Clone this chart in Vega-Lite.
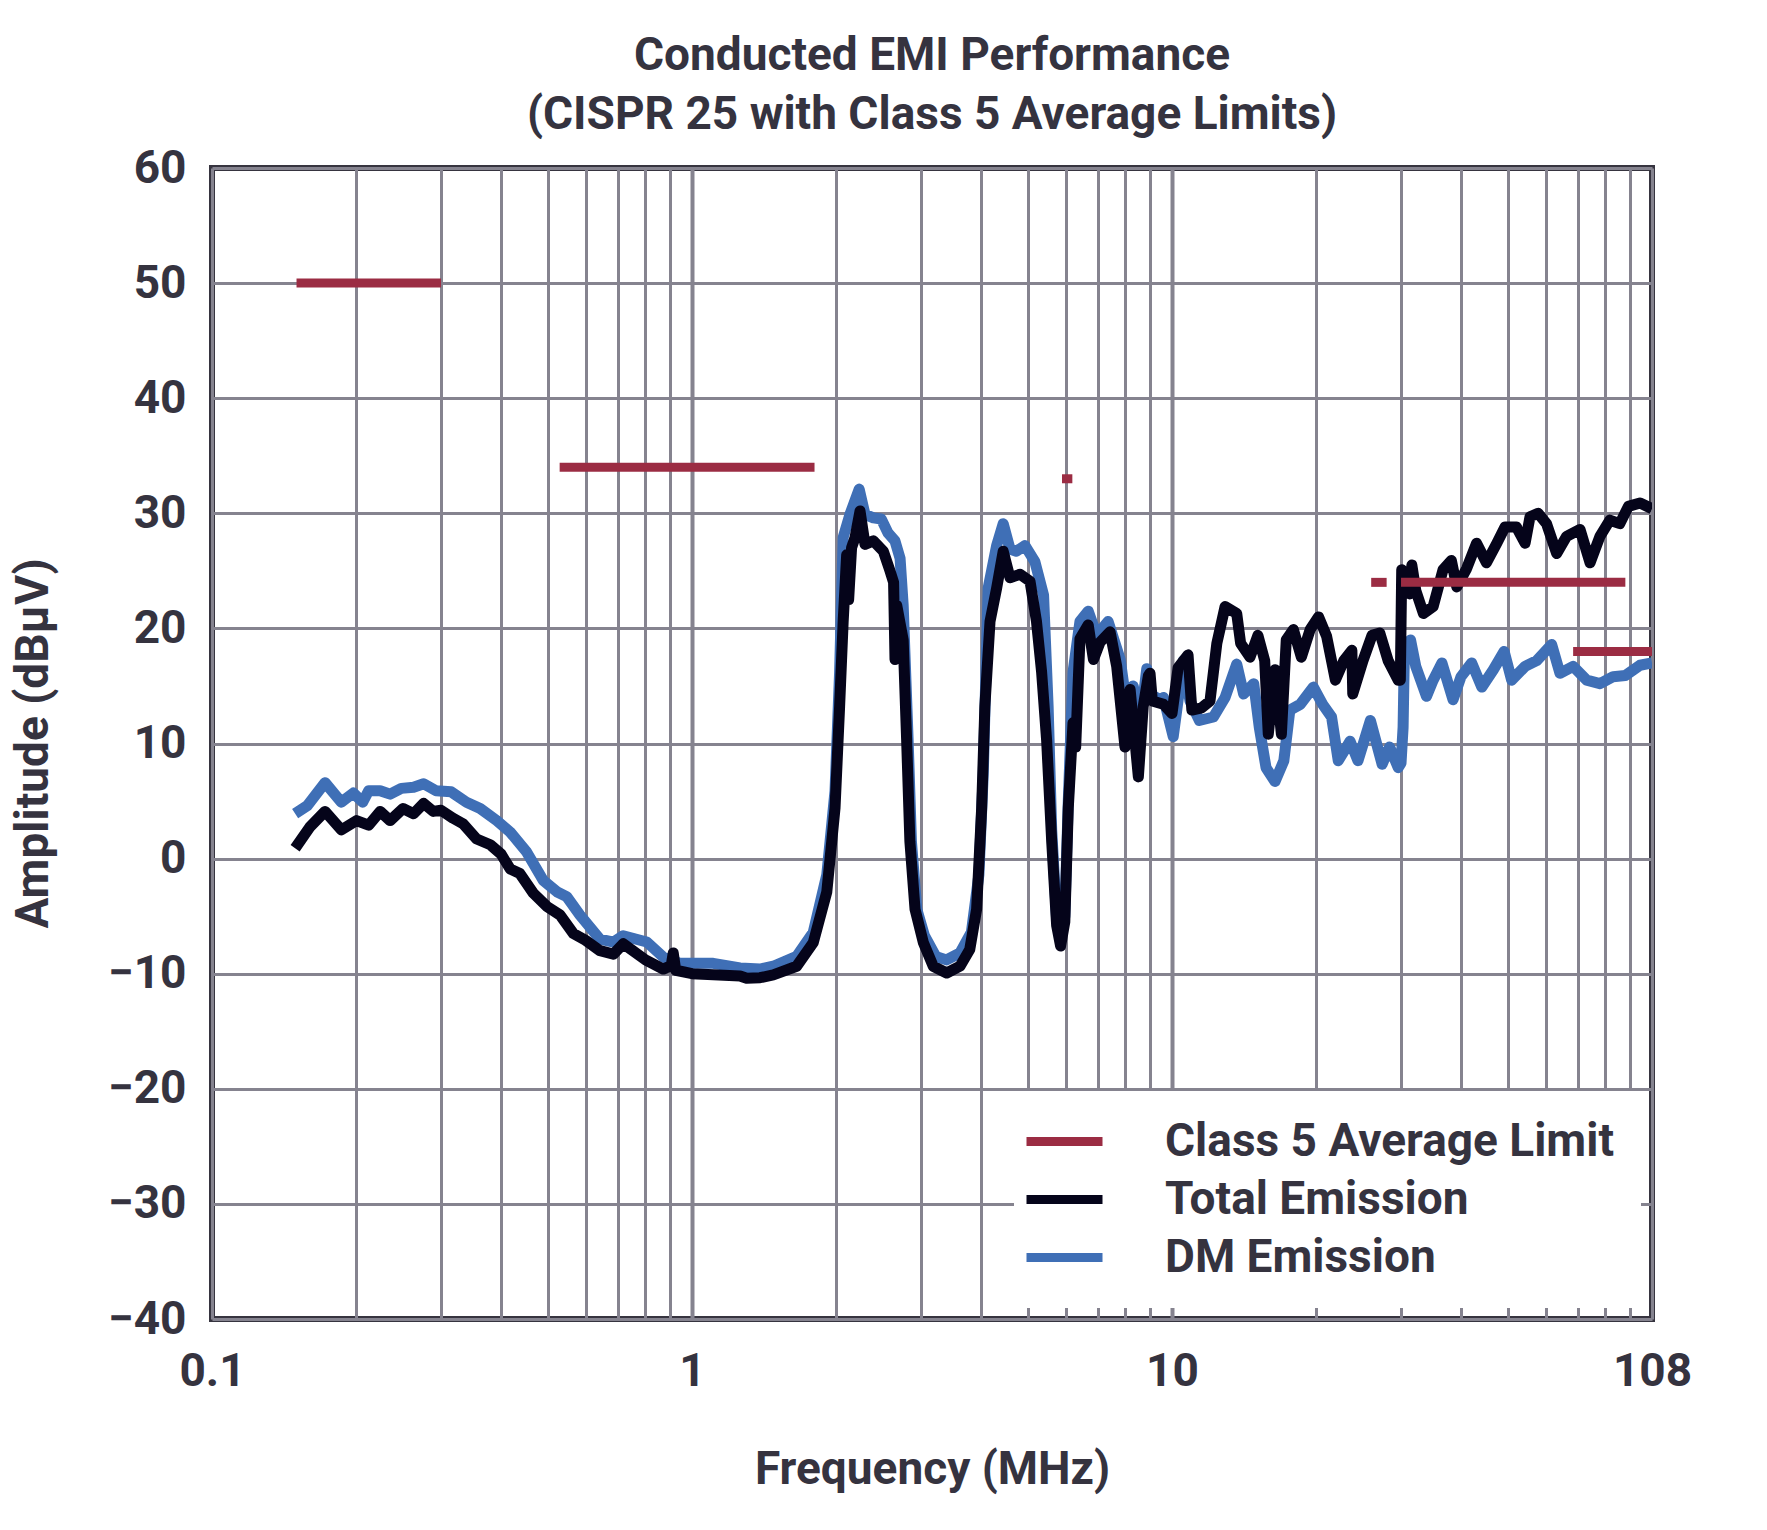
{
  "$schema": "https://vega.github.io/schema/vega-lite/v6.json",
  "width": 1440,
  "height": 1151,
  "autosize": "none",
  "padding": {"left": 212, "top": 168, "right": 115, "bottom": 211},
  "background": "white",
  "title": {
    "text": ["Conducted EMI Performance", "(CISPR 25 with Class 5 Average Limits)"],
    "font": "Roboto",
    "fontSize": 46,
    "fontWeight": "bold",
    "color": "#35333f",
    "lineHeight": 59,
    "anchor": "middle",
    "frame": "group",
    "offset": 6
  },
  "config": {
    "view": {"stroke": "#36343f", "strokeWidth": 6},
    "axis": {
      "labelFont": "Roboto",
      "labelFontWeight": "bold",
      "labelFontSize": 46,
      "labelColor": "#35333f",
      "titleFont": "Roboto",
      "titleFontWeight": "bold",
      "titleFontSize": 46,
      "titleColor": "#35333f",
      "ticks": false,
      "domain": false,
      "gridColor": "#85838f",
      "gridOpacity": 1
    },
    "legend": {
      "title": null,
      "orient": "bottom-right",
      "offset": 11,
      "padding": 27,
      "fillColor": "white",
      "symbolType": "M-2,0H2",
      "symbolSize": 1444,
      "symbolStrokeWidth": 9,
      "labelFont": "Roboto",
      "labelFontWeight": "bold",
      "labelFontSize": 46,
      "labelColor": "#35333f",
      "labelOffset": 77,
      "labelLimit": 900,
      "rowPadding": 11
    }
  },
  "datasets": {
    "limit": [
      {"series": "Class 5 Average Limit", "seg": 1, "f": 0.15, "v": 50},
      {"series": "Class 5 Average Limit", "seg": 1, "f": 0.30, "v": 50},
      {"series": "Class 5 Average Limit", "seg": 2, "f": 0.53, "v": 34},
      {"series": "Class 5 Average Limit", "seg": 2, "f": 1.8, "v": 34},
      {"series": "Class 5 Average Limit", "seg": 3, "f": 5.9, "v": 33},
      {"series": "Class 5 Average Limit", "seg": 3, "f": 6.2, "v": 33},
      {"series": "Class 5 Average Limit", "seg": 4, "f": 26, "v": 24},
      {"series": "Class 5 Average Limit", "seg": 4, "f": 28, "v": 24},
      {"series": "Class 5 Average Limit", "seg": 5, "f": 30, "v": 24},
      {"series": "Class 5 Average Limit", "seg": 5, "f": 88, "v": 24},
      {"series": "Class 5 Average Limit", "seg": 6, "f": 68.5, "v": 18},
      {"series": "Class 5 Average Limit", "seg": 6, "f": 100, "v": 18}
    ],
    "total": [
      {"f": 0.149, "v": 0.9}, {"f": 0.160, "v": 2.75}, {"f": 0.172, "v": 4.1}, {"f": 0.186, "v": 2.5},
      {"f": 0.200, "v": 3.3}, {"f": 0.212, "v": 2.9}, {"f": 0.224, "v": 4.1}, {"f": 0.235, "v": 3.3},
      {"f": 0.250, "v": 4.35}, {"f": 0.263, "v": 3.9}, {"f": 0.276, "v": 4.8}, {"f": 0.289, "v": 4.1},
      {"f": 0.300, "v": 4.2}, {"f": 0.318, "v": 3.5}, {"f": 0.334, "v": 3.0}, {"f": 0.356, "v": 1.7},
      {"f": 0.380, "v": 1.2}, {"f": 0.400, "v": 0.4}, {"f": 0.418, "v": -0.9}, {"f": 0.438, "v": -1.3},
      {"f": 0.467, "v": -3.0}, {"f": 0.500, "v": -4.2}, {"f": 0.531, "v": -4.9}, {"f": 0.566, "v": -6.5},
      {"f": 0.600, "v": -7.1}, {"f": 0.643, "v": -8.0}, {"f": 0.686, "v": -8.3}, {"f": 0.719, "v": -7.4},
      {"f": 0.800, "v": -8.8}, {"f": 0.871, "v": -9.6}, {"f": 0.905, "v": -9.3}, {"f": 0.914, "v": -8.2},
      {"f": 0.925, "v": -9.7}, {"f": 1.000, "v": -10.0}, {"f": 1.107, "v": -10.1}, {"f": 1.259, "v": -10.2},
      {"f": 1.30, "v": -10.4}, {"f": 1.386, "v": -10.35}, {"f": 1.477, "v": -10.1}, {"f": 1.652, "v": -9.35},
      {"f": 1.789, "v": -7.3}, {"f": 1.909, "v": -2.9}, {"f": 1.986, "v": 4.4}, {"f": 2.03, "v": 13.2},
      {"f": 2.065, "v": 20.6}, {"f": 2.10, "v": 26.4}, {"f": 2.12, "v": 22.5}, {"f": 2.15, "v": 27},
      {"f": 2.186, "v": 27.9}, {"f": 2.239, "v": 30.2}, {"f": 2.293, "v": 27.3}, {"f": 2.387, "v": 27.6},
      {"f": 2.504, "v": 26.7}, {"f": 2.585, "v": 25.0}, {"f": 2.63, "v": 24}, {"f": 2.648, "v": 17.3},
      {"f": 2.67, "v": 22}, {"f": 2.754, "v": 19}, {"f": 2.80, "v": 10.3}, {"f": 2.844, "v": 1.5},
      {"f": 2.915, "v": -4.4}, {"f": 3.034, "v": -7.3}, {"f": 3.18, "v": -9.35}, {"f": 3.393, "v": -9.94},
      {"f": 3.617, "v": -9.35}, {"f": 3.79, "v": -7.9}, {"f": 3.917, "v": -4.4}, {"f": 4.013, "v": 4.4},
      {"f": 4.075, "v": 13.2}, {"f": 4.177, "v": 20.6}, {"f": 4.312, "v": 23.5}, {"f": 4.45, "v": 26.7},
      {"f": 4.597, "v": 24.4}, {"f": 4.824, "v": 24.7}, {"f": 5.06, "v": 24.1}, {"f": 5.22, "v": 20.6},
      {"f": 5.35, "v": 16.2}, {"f": 5.48, "v": 10.3}, {"f": 5.615, "v": 1.5}, {"f": 5.75, "v": -5.8},
      {"f": 5.86, "v": -7.6}, {"f": 5.98, "v": -5.5}, {"f": 6.08, "v": 4.4}, {"f": 6.22, "v": 11.8},
      {"f": 6.30, "v": 9.7}, {"f": 6.43, "v": 19.1}, {"f": 6.69, "v": 20.3}, {"f": 6.86, "v": 17.3},
      {"f": 7.08, "v": 18.8}, {"f": 7.43, "v": 19.7}, {"f": 7.67, "v": 16.7}, {"f": 7.98, "v": 9.7},
      {"f": 8.18, "v": 14.7}, {"f": 8.51, "v": 7.1}, {"f": 8.71, "v": 13.2}, {"f": 8.93, "v": 15.9},
      {"f": 9.0, "v": 16.1}, {"f": 9.1, "v": 13.7}, {"f": 9.6, "v": 13.4}, {"f": 10.0, "v": 12.6},
      {"f": 10.3, "v": 16.6}, {"f": 10.8, "v": 17.7}, {"f": 11.0, "v": 12.9}, {"f": 11.53, "v": 13.1},
      {"f": 12.0, "v": 13.7}, {"f": 12.4, "v": 18.7}, {"f": 12.9, "v": 21.9}, {"f": 13.64, "v": 21.3},
      {"f": 13.9, "v": 18.7}, {"f": 14.54, "v": 17.5}, {"f": 15.1, "v": 19.4}, {"f": 15.6, "v": 17.2},
      {"f": 15.87, "v": 10.8}, {"f": 16.39, "v": 16.4}, {"f": 16.9, "v": 10.8}, {"f": 17.3, "v": 19.0},
      {"f": 17.9, "v": 19.9}, {"f": 18.6, "v": 17.5}, {"f": 19.4, "v": 19.9}, {"f": 20.2, "v": 21.0},
      {"f": 21.0, "v": 19.3}, {"f": 21.9, "v": 15.5}, {"f": 22.8, "v": 17.2}, {"f": 23.7, "v": 18.1},
      {"f": 23.8, "v": 14.3}, {"f": 25.0, "v": 17.2}, {"f": 26.1, "v": 19.4}, {"f": 27.1, "v": 19.6},
      {"f": 28.2, "v": 17.2}, {"f": 29.6, "v": 15.5}, {"f": 29.9, "v": 15.5}, {"f": 30.1, "v": 25.1},
      {"f": 31.3, "v": 23}, {"f": 31.6, "v": 25.5}, {"f": 32.2, "v": 23.3}, {"f": 33.4, "v": 21.3},
      {"f": 35.0, "v": 21.9}, {"f": 36.7, "v": 25.1}, {"f": 38.2, "v": 25.9}, {"f": 39.2, "v": 23.6},
      {"f": 41.1, "v": 25.2}, {"f": 43.1, "v": 27.4}, {"f": 45.2, "v": 25.7}, {"f": 47.5, "v": 27.4},
      {"f": 49.4, "v": 28.8}, {"f": 52.2, "v": 28.8}, {"f": 54.4, "v": 27.4}, {"f": 55.7, "v": 29.7},
      {"f": 57.9, "v": 30.0}, {"f": 60.3, "v": 29.1}, {"f": 63.3, "v": 26.5}, {"f": 66.4, "v": 28.0},
      {"f": 70.8, "v": 28.6}, {"f": 74.3, "v": 25.7}, {"f": 77.9, "v": 28.0}, {"f": 81.7, "v": 29.4},
      {"f": 85.7, "v": 29.1}, {"f": 89.3, "v": 30.6}, {"f": 94.4, "v": 30.9}, {"f": 100, "v": 30.4}
    ],
    "dm": [
      {"f": 0.149, "v": 3.9}, {"f": 0.158, "v": 4.6}, {"f": 0.172, "v": 6.6}, {"f": 0.186, "v": 4.9},
      {"f": 0.197, "v": 5.7}, {"f": 0.206, "v": 4.9}, {"f": 0.212, "v": 5.9}, {"f": 0.224, "v": 5.9},
      {"f": 0.235, "v": 5.6}, {"f": 0.248, "v": 6.1}, {"f": 0.263, "v": 6.2}, {"f": 0.276, "v": 6.5},
      {"f": 0.293, "v": 5.9}, {"f": 0.315, "v": 5.8}, {"f": 0.339, "v": 4.9}, {"f": 0.362, "v": 4.35},
      {"f": 0.392, "v": 3.3}, {"f": 0.418, "v": 2.3}, {"f": 0.452, "v": 0.6}, {"f": 0.490, "v": -1.9},
      {"f": 0.524, "v": -2.9}, {"f": 0.548, "v": -3.3}, {"f": 0.584, "v": -4.9}, {"f": 0.643, "v": -7.0},
      {"f": 0.686, "v": -7.25}, {"f": 0.719, "v": -6.7}, {"f": 0.805, "v": -7.25}, {"f": 0.871, "v": -8.55},
      {"f": 0.944, "v": -9.1}, {"f": 1.107, "v": -9.1}, {"f": 1.259, "v": -9.5}, {"f": 1.386, "v": -9.6},
      {"f": 1.477, "v": -9.35}, {"f": 1.652, "v": -8.5}, {"f": 1.789, "v": -6.4}, {"f": 1.909, "v": -1.4},
      {"f": 1.986, "v": 5.9}, {"f": 2.03, "v": 16.2}, {"f": 2.065, "v": 27.9}, {"f": 2.133, "v": 29.9},
      {"f": 2.23, "v": 32.1}, {"f": 2.293, "v": 29.9}, {"f": 2.387, "v": 29.6}, {"f": 2.48, "v": 29.5},
      {"f": 2.56, "v": 28.3}, {"f": 2.648, "v": 27.6}, {"f": 2.713, "v": 26.1}, {"f": 2.754, "v": 22},
      {"f": 2.82, "v": 10.3}, {"f": 2.865, "v": 1.5}, {"f": 2.94, "v": -4.4}, {"f": 3.05, "v": -6.7},
      {"f": 3.22, "v": -8.5}, {"f": 3.39, "v": -8.8}, {"f": 3.617, "v": -8.2}, {"f": 3.82, "v": -6.4},
      {"f": 3.96, "v": -1.4}, {"f": 4.044, "v": 7.4}, {"f": 4.14, "v": 23.5}, {"f": 4.312, "v": 27.2},
      {"f": 4.45, "v": 29.1}, {"f": 4.597, "v": 26.9}, {"f": 4.74, "v": 26.7}, {"f": 4.94, "v": 27.2},
      {"f": 5.18, "v": 25.8}, {"f": 5.40, "v": 22.9}, {"f": 5.52, "v": 13.2}, {"f": 5.615, "v": 2.5},
      {"f": 5.75, "v": -5.3}, {"f": 5.86, "v": -7.2}, {"f": 5.98, "v": -5.0}, {"f": 6.08, "v": 5.0},
      {"f": 6.22, "v": 16.2}, {"f": 6.43, "v": 20.6}, {"f": 6.69, "v": 21.5}, {"f": 6.97, "v": 19.4},
      {"f": 7.36, "v": 20.6}, {"f": 7.8, "v": 17.3}, {"f": 8.05, "v": 13.2}, {"f": 8.3, "v": 15},
      {"f": 8.6, "v": 12}, {"f": 8.86, "v": 16.5}, {"f": 9.0, "v": 14.3}, {"f": 9.45, "v": 13.8},
      {"f": 9.6, "v": 14}, {"f": 10.06, "v": 10.6}, {"f": 10.56, "v": 17.2}, {"f": 10.9, "v": 13.7},
      {"f": 11.4, "v": 12.0}, {"f": 12.2, "v": 12.3}, {"f": 12.9, "v": 14.0}, {"f": 13.64, "v": 16.9},
      {"f": 14.1, "v": 14.3}, {"f": 14.8, "v": 15.2}, {"f": 15.2, "v": 11.4}, {"f": 15.7, "v": 7.9},
      {"f": 16.39, "v": 6.7}, {"f": 17.1, "v": 8.5}, {"f": 17.6, "v": 12.9}, {"f": 18.5, "v": 13.4},
      {"f": 19.7, "v": 14.9}, {"f": 20.6, "v": 13.4}, {"f": 21.5, "v": 12.3}, {"f": 22.2, "v": 8.5},
      {"f": 23.5, "v": 10.2}, {"f": 24.4, "v": 8.5}, {"f": 25.9, "v": 12.0}, {"f": 27.4, "v": 8.2},
      {"f": 28.4, "v": 9.7}, {"f": 29.6, "v": 7.9}, {"f": 30.0, "v": 8.3}, {"f": 30.3, "v": 11.4},
      {"f": 30.5, "v": 18.4}, {"f": 31.4, "v": 19.0}, {"f": 32.2, "v": 16.7}, {"f": 33.9, "v": 14.1},
      {"f": 35.0, "v": 15.5}, {"f": 36.5, "v": 17.0}, {"f": 38.5, "v": 13.8}, {"f": 40.0, "v": 15.8},
      {"f": 42.1, "v": 17.0}, {"f": 44.2, "v": 14.9}, {"f": 46.7, "v": 16.4}, {"f": 49.2, "v": 18.0},
      {"f": 51.0, "v": 15.5}, {"f": 54.4, "v": 16.7}, {"f": 57.5, "v": 17.2}, {"f": 61.8, "v": 18.6},
      {"f": 64.3, "v": 16.1}, {"f": 68.5, "v": 16.7}, {"f": 73.1, "v": 15.5}, {"f": 77.9, "v": 15.2},
      {"f": 83.0, "v": 15.8}, {"f": 88.0, "v": 15.9}, {"f": 94.4, "v": 16.8}, {"f": 100, "v": 17.0}
    ]
  },
  "encoding": {
    "x": {
      "field": "f",
      "type": "quantitative",
      "scale": {"type": "log", "domain": [0.1, 100]},
      "axis": {
        "title": "Frequency (MHz)",
        "values": [0.1, 0.2, 0.3, 0.4, 0.5, 0.6, 0.7, 0.8, 0.9, 1, 2, 3, 4, 5, 6, 7, 8, 9, 10, 20, 30, 40, 50, 60, 70, 80, 90, 100],
        "labelExpr": "datum.value == 0.1 ? '0.1' : datum.value == 1 ? '1' : datum.value == 10 ? '10' : datum.value == 100 ? '108' : ''",
        "labelPadding": 30,
        "labelFlush": false,
        "labelOverlap": false,
        "gridWidth": {"condition": {"test": "datum.value == 1 || datum.value == 10", "value": 4}, "value": 3},
        "titleX": 720,
        "titleY": 150,
        "titleBaseline": "middle",
        "titleAlign": "center"
      }
    },
    "y": {
      "field": "v",
      "type": "quantitative",
      "scale": {"domain": [-40, 60], "nice": false},
      "axis": {
        "title": "Amplitude (dBμV)",
        "values": [-40, -30, -20, -10, 0, 10, 20, 30, 40, 50, 60],
        "labelPadding": 26,
        "gridWidth": 3,
        "titleX": -179,
        "titleY": 575,
        "titleBaseline": "middle",
        "titleAlign": "center"
      }
    },
    "color": {
      "field": "series",
      "type": "nominal",
      "scale": {
        "domain": ["Class 5 Average Limit", "Total Emission", "DM Emission"],
        "range": ["#9b2c43", "#05041a", "#3f6fb6"]
      }
    }
  },
  "layer": [
    {
      "data": {"name": "dm"},
      "transform": [{"calculate": "'DM Emission'", "as": "series"}],
      "mark": {"type": "line", "strokeWidth": 11, "strokeJoin": "round", "clip": true}
    },
    {
      "data": {"name": "total"},
      "transform": [{"calculate": "'Total Emission'", "as": "series"}],
      "mark": {"type": "line", "strokeWidth": 11, "strokeJoin": "round", "clip": true}
    },
    {
      "data": {"name": "limit"},
      "mark": {"type": "line", "strokeWidth": 9, "strokeCap": "butt", "clip": true},
      "encoding": {"detail": {"field": "seg", "type": "nominal"}}
    }
  ]
}
